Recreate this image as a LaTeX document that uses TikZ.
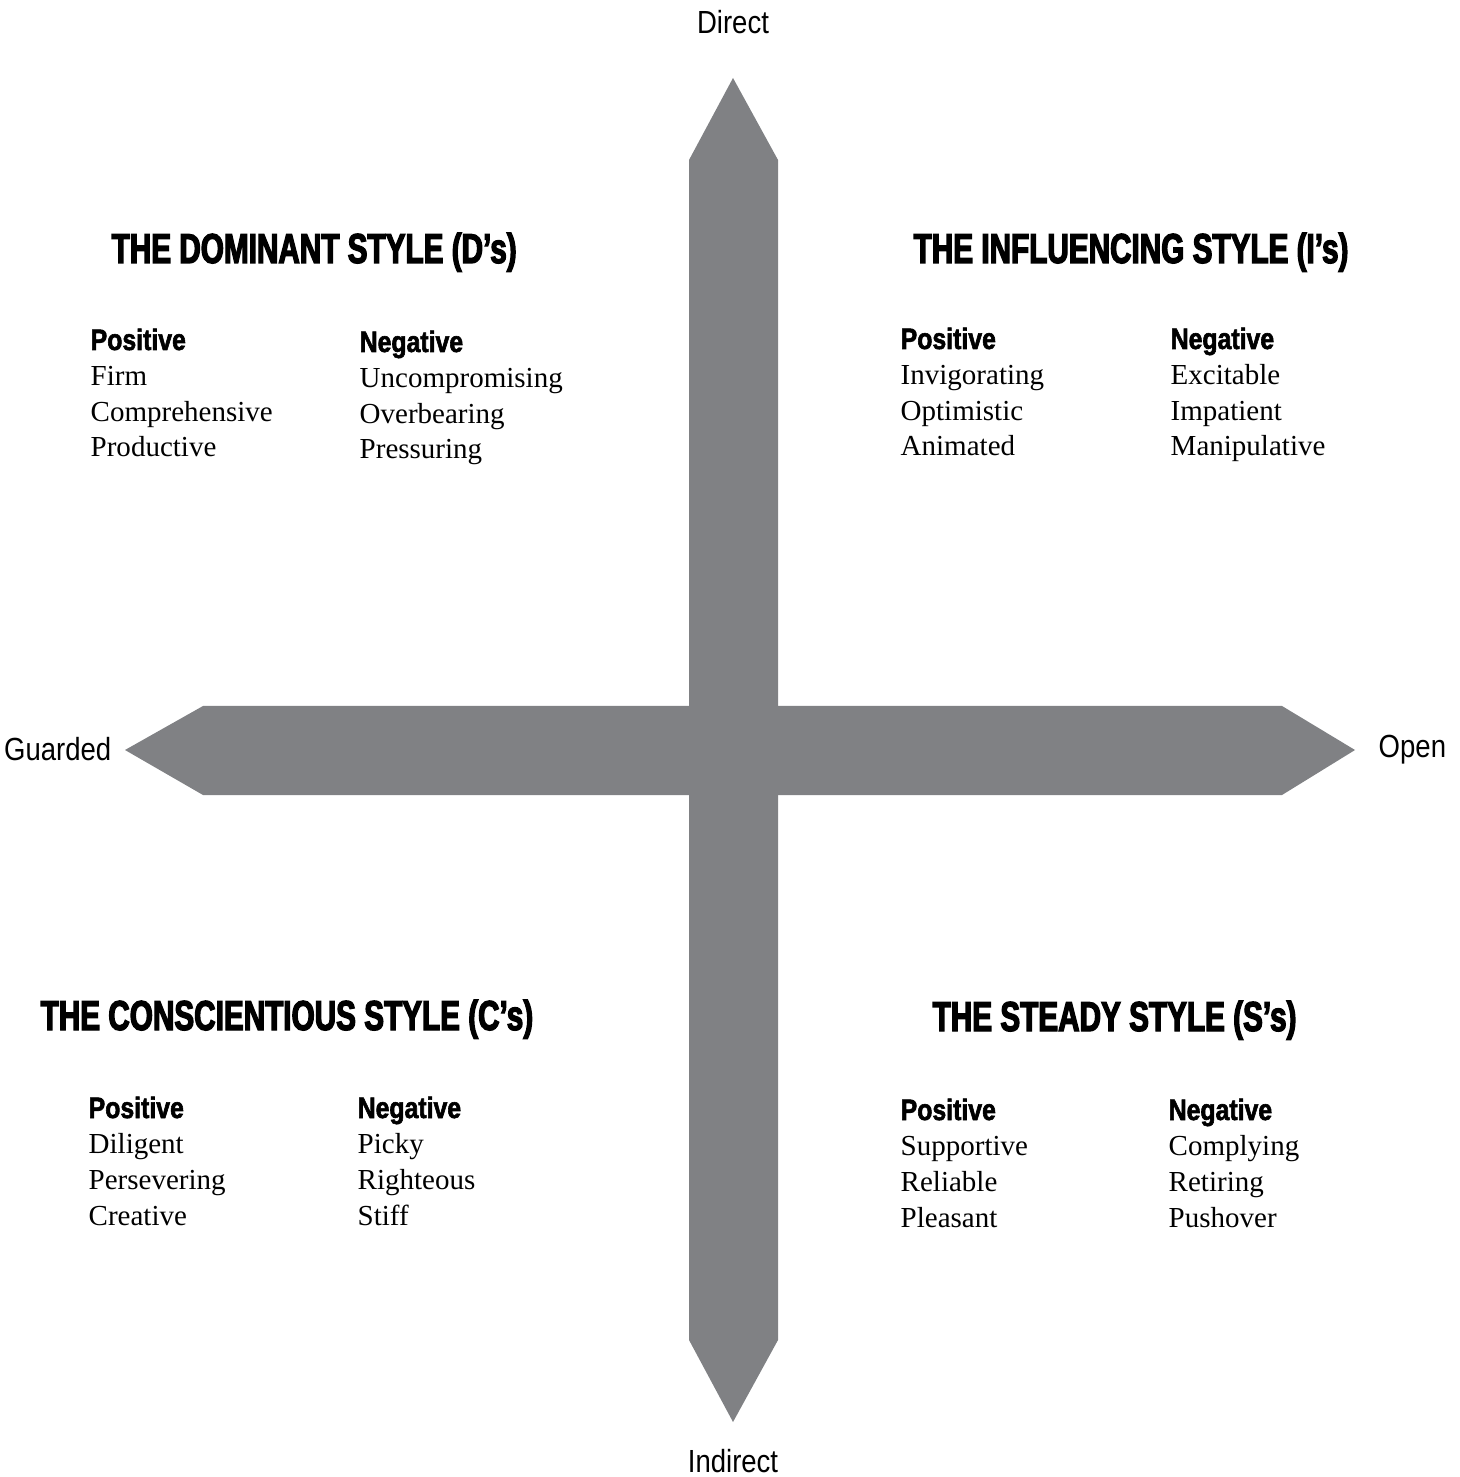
\documentclass[tikz,border=0pt]{standalone}
\usepackage{fontspec}
\setmainfont{Liberation Serif}
\newfontfamily\axisfont[FakeStretch=0.86]{Liberation Sans}
\newfontfamily\headfont[FakeStretch=0.84,FakeBold=2]{Liberation Sans Bold}
\newfontfamily\titlefont[FakeStretch=0.71,FakeBold=3]{Liberation Sans Bold}
\usetikzlibrary{positioning}
\definecolor{axisgray}{RGB}{128,129,132}

\begin{document}
\begin{tikzpicture}[x=0.01cm, y=-0.01cm,
    title/.style={anchor=base west, inner sep=0pt, font=\titlefont\fontsize{11.9}{14}\selectfont},
    heading/.style={anchor=base west, inner sep=0pt, font=\headfont\fontsize{8.4}{10}\selectfont},
    items/.style={anchor=base west, inner sep=0pt, align=left, font=\fontsize{8.25}{10.1}\selectfont},
    axislabel/.style={inner sep=0pt, font=\axisfont\fontsize{9.1}{11}\selectfont}]
 	\useasboundingbox (0,0) rectangle (1459,1477);

 	% arrows
 	\fill[axisgray] (733,78) -- (778,160) -- (778,1340) -- (733,1422)
 		-- (689,1340) -- (689,160) -- cycle;
 	\fill[axisgray] (125,750) -- (203,706) -- (1282,706) -- (1355,750)
 		-- (1282,795) -- (203,795) -- cycle;

 	% axis labels
 	\node[axislabel, anchor=base] (direct) at (733,34) {Direct};
 	\node[axislabel, anchor=base] (indirect) at (733,1472) {Indirect};
 	\node[axislabel, anchor=base east] (guarded) at (112,761) {Guarded};
 	\node[axislabel, anchor=base west] (open) at (1378,758) {Open};

 	% dominant (lists placed by their last line)
 	\node[title] (dT) at (111,263) {THE DOMINANT STYLE (D’s)};
 	\node[heading] (dP) at (90,350) {Positive};
 	\node[items] (dPl) at (90,457) {Firm\\Comprehensive\\Productive};
 	\node[heading] (dN) at (359,352) {Negative};
 	\node[items] (dNl) at (359,459) {Uncompromising\\Overbearing\\Pressuring};

 	% influencing
 	\node[title] (iT) at (913,263) {THE INFLUENCING STYLE (I’s)};
 	\node[heading] (iP) at (900,349) {Positive};
 	\node[items] (iPl) at (900,456) {Invigorating\\Optimistic\\Animated};
 	\node[heading] (iN) at (1170,349) {Negative};
 	\node[items] (iNl) at (1170,456) {Excitable\\Impatient\\Manipulative};

 	% conscientious
 	\node[title] (cT) at (40,1030) {THE CONSCIENTIOUS STYLE (C’s)};
 	\node[heading] (cP) at (88,1118) {Positive};
 	\node[items] (cPl) at (88,1225) {Diligent\\Persevering\\Creative};
 	\node[heading] (cN) at (357,1118) {Negative};
 	\node[items] (cNl) at (357,1225) {Picky\\Righteous\\Stiff};

 	% steady
 	\node[title] (sT) at (932,1031) {THE STEADY STYLE (S’s)};
 	\node[heading] (sP) at (900,1120) {Positive};
 	\node[items] (sPl) at (900,1227) {Supportive\\Reliable\\Pleasant};
 	\node[heading] (sN) at (1168,1120) {Negative};
 	\node[items] (sNl) at (1168,1227) {Complying\\Retiring\\Pushover};
\end{tikzpicture}
\end{document}
